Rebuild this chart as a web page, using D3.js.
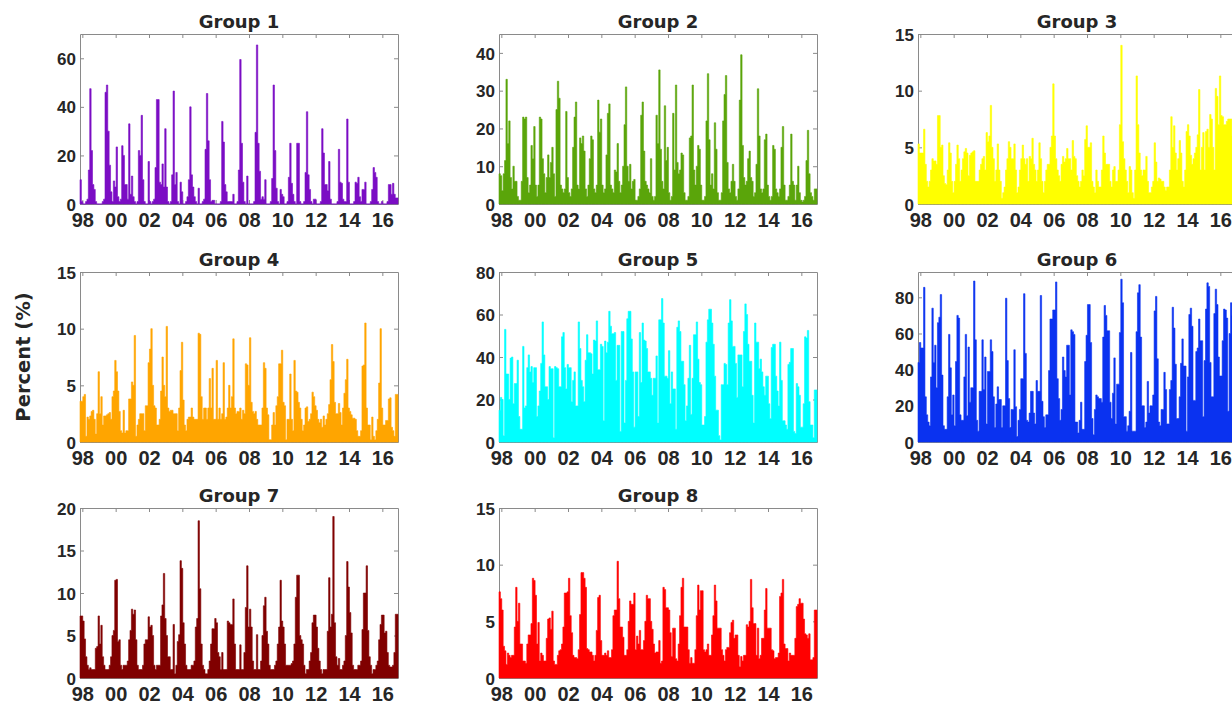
<!DOCTYPE html>
<html>
<head>
  <meta charset="UTF-8">
  <script src="https://d3js.org/d3.v7.min.js"></script>
  <title>Percent by group</title>
  <style type="text/css">
    html, body { margin:0; padding:0; background:#fff; }
  </style>
</head>
<body>
<script>
  // monthly values, one row per year
  var group1 = [
    [10,1,0,0,1,2,14,47.5,22,8,6,1],
    [0,0,0,0,1,2,46,49,30,16,5,1],
    [9.5,7,23.5,3,1,2,24,20,8,8,2,33],
    [4,11.5,3,1,0,1,22,20,36.5,10,1,0],
    [0,17.5,1,0,1,2,15,43,43,9,8,16.5],
    [7,31,7,1,0,1,12,46.5,8,13,1,0],
    [9,5,0,0,1,3,10,40,12,7,3,1],
    [0,6.5,0,0,1,2,22.5,45.5,26,10,1,1.5],
    [1.5,0,0,0,0,1,34,25.5,8,5,1,1],
    [1,1,4,0,0,1,14,59.5,25,9,1,0],
    [11.5,0,0,0,0,1,29.5,65.5,25,13.5,2,3],
    [2,10,0,0,0,1,10.5,49,22,6.5,1,0],
    [6,4,3,0,0,1,11,25,8.5,4,1,0],
    [25,25,1,0,0,1,13,38,12,6,1,0],
    [2,2,0,0,0,1,31,21,8,8,5.5,17.5],
    [2,0,0,0,0,1,22.5,9,8.5,2,1,1],
    [35,9,0,0,0,1,9,8.5,11,3,1,6],
    [6,9,0,0,0,1,6,15,13,11,1,0],
    [0,1,0,0,0,1,8,8,4,8.5,4,2.5]
  ].flat();

  var group2 = [
    [8,7.5,3.5,8,11.5,33,16,22,7,4,10,6],
    [6,2,1,1,6,23,22.5,23,7,3,5,15.5],
    [12,20.5,5,2,5,23,22.5,12,8,3,7,13],
    [7,11,15,8,2,25,32.5,28,5,4,3,4],
    [24.5,7,3,2,4,15,23,27,5,4,17.5,16],
    [18,14,4,2,5,12,18,17,4,3,5,27.5],
    [19,22.5,5,3,4,13,24,26.5,5,4,3,9],
    [8.5,16,6,3,5,10,21,31,10,6,10.5,4],
    [6,6.5,1,1,2,4,23.5,27,14,6,5,4],
    [3,12,2,1,2,23.5,16,35.5,14.5,6,4,26],
    [11.5,15,3,1,2,24,9,31.5,11,8,9,13.5],
    [13,3,1,1,2,17.5,18,31.5,9,5,10,15.5],
    [14.5,5,1,1,2,22,34.5,17,5,8,4,21.5],
    [14.5,3,1,1,3,22,29,34,11,4,3,6],
    [10.5,6,2,1,4,27.5,39.5,15.5,7,5,6,12],
    [14,7,6,2,3,10.5,30.5,18,4,3,4,17],
    [18.5,5,2,1,2,15.5,14.5,4,3,2,4,15],
    [20.5,5,1,1,2,5,18.5,6,5,1,5,10],
    [3,1,0.5,1,2,11.5,19.5,8,3,2,1,4]
  ].flat();

  var group3 = [
    [5.3,4.5,4.5,4.5,6.6,3.5,2,1.5,2,3,4,3.8],
    [3.8,3.5,7.8,7.8,5,5.2,2.5,1.8,1.7,3,5.4,4.5],
    [2,1,2,3.5,5.2,4,2,3,4,4.6,4.9,4.5],
    [2.5,4.3,4.5,4.6,4.7,2,2,2,3,3.5,4,4.2],
    [3,6.3,5.5,6,8.7,5,4,2,3,5.3,3,2],
    [0.5,1,1.5,3,4,5.5,5,4,4,5.3,3,1],
    [1.5,3,4,5.2,4,3.5,4,2,4.2,4,5.8,3.5],
    [3,2,3,5.4,4,2,1,2,3,3.5,3.5,5],
    [6,10.6,6,4,3,2.5,2,3.5,4.2,3.7,4,4.9],
    [4,4,3,5.6,4.2,4,2.5,2,1.5,2,3,2.5],
    [5.7,6.9,5,5,5.4,2,1.5,1,3,2,1.5,1.5],
    [3,6,4.5,3.5,3.5,3.5,2,1.5,3,3.3,2,2],
    [3,7,14,5.5,4,3,2,1,3.3,3,1,0.5],
    [3,11.3,7,4.5,3,2.5,3,3,4.2,2,1,1],
    [1.5,2,5.4,3.7,2,2.3,2.2,2,2,1.5,1.2,1.5],
    [1.5,3,7.7,5,6.9,4.5,3,4,5.6,4.5,2,1.5],
    [3,6.4,7,6,4.3,3.5,4,4.5,5,6.1,10.1,3],
    [5,6.3,3,6.4,6.6,5,7.9,7.5,5,3,10.2,9.5],
    [7,11.3,7.8,7.7,7,7,7.3,7.5,7.5,7.5,6,6]
  ].flat();

  var group4 = [
    [3.6,3.6,4,4.2,0.5,2.2,2,2.3,2.7,2.8,2,0.7],
    [2.5,6.2,2.5,4,1.5,2.3,2.3,2.4,2.5,2.6,2,4],
    [4.5,7.2,6.2,4.5,2.7,1,0.8,2.8,0.8,1,1,3.8],
    [3.8,5.3,5,9.4,0.5,1.5,2,2.5,2.5,2.5,1,3.2],
    [3.2,7,8.2,10,5,3.2,3,1.5,1.5,2,4.5,7.5],
    [5,4,10.2,3,2.7,2.8,2.8,2.5,2.5,2.5,1,3],
    [6.3,8.8,3.7,1.5,1,2,2.2,2.2,3,2.2,2,2],
    [2,9.6,9.5,4,2,3,3,2,3,5.6,3,6.5],
    [2,2,7.2,2,3,2,2.5,7,2,2.2,3,5],
    [3,4,9.1,3,2.5,2.7,2.7,3,2,2.8,2.5,6.9],
    [6.8,5,9.2,3.5,2.7,2.5,2.7,2,1.5,1.5,1.5,3],
    [7,6.5,3,2.4,0.2,0.2,1.5,2.6,1.5,3.2,4,6.9],
    [6.9,8.1,3.5,3.2,0.2,2,2,6,2,1,7.2,4.5],
    [4.4,3.5,3,2,1,1.5,3,3.1,1.8,2,2.5,4.4],
    [4,3.2,2.8,2,1.7,2,1.3,2.3,1.5,2,2.5,3.3],
    [5.5,8.6,7.1,3.5,2.5,2.5,3.4,2.6,1.5,3,4.3,5.5],
    [7.3,3,2.7,2.4,2.1,2.1,2,1,0.5,0.5,1,6.7],
    [6.8,10.5,3,1.5,1.5,0.2,2.2,0.5,0.2,1,2,5.2],
    [10,3,1.5,1.5,1.9,1.9,3.8,3.9,1.3,1,0.5,4.2]
  ].flat();

  var group5 = [
    [15,21,20,3,53,32,32,20,39.5,40,18,27.5],
    [27.5,38.5,12,6,6,45,16,17,35,41,33,35.5],
    [28,35,35,12,17,24,37,56.5,41,26,26,20],
    [35.5,34.5,34.5,2,35.5,35,34.5,26,26,49.5,51.5,35],
    [25,36.5,35,35,19,29,33,17,17,56.5,44,29],
    [26,19,38.5,50.5,42,42,41.5,32,48,47.5,57,34],
    [34,46,45,10,47.5,42,47,61.5,54.5,51,51,51.5],
    [29,45.5,45.5,5,52,52,9,29,58,61.5,61.5,48.5],
    [33,7,33,33,12,51.5,28,56,48,47.5,44,33],
    [33,30,22,30,30,40.5,9,57.5,57.5,67.5,56,31],
    [31,30,43,18,33,25,25,6,54,57,52,38],
    [38,27,10,17,30,45.5,13,30,50.5,50.5,56.5,39],
    [28,27,8,8,12,47,57.5,62.5,62.5,56,46,31],
    [15,15,3,1,27,27,37,36.5,27,56,67,57],
    [45,45,37,21,41,41,41,26,52,65,60,46],
    [38,38,22,9,56,47,47,34.5,39,33,26,22],
    [31,31,18,11,44.5,46,46,31,24,17,47,29],
    [10,10,8,6,36.5,37.5,44,44,5,4,27.5,26],
    [22,7,7,18,49.5,49,52.5,19,8,8,2,24.5]
  ].flat();

  var group6 = [
    [44,55,52,52,85.5,25,15,11,9,36,74,44],
    [53.5,30,66,69,81.5,37,9,7,7,25,59.5,41],
    [15,26,9,44.5,70,68.5,15,12,12,36,59.5,14.5],
    [52.5,22,30,30,89,56.5,12,6,28,28,56.5,29],
    [47,10,39,39,56.5,50,25,8,21,30.5,23.5,23.5],
    [8,20,20,79.5,45,24,8,18,18,51,19.5,3],
    [12,18,35,35,82,49,12,11,16,28,28,16],
    [10,34,28,28,81,22.5,14,8,15,15,39.5,68],
    [68,73,73,88.5,35,24,12,18,47,39.5,36,53.5],
    [53.5,26,62,61,59.5,11,11,5,12,22,7,7],
    [44.5,59,76,76,55,13,4,18,26,25,24,24],
    [22,58,75.5,70,61.5,61.5,22,13,27,46.5,10,32],
    [32,60.5,90,77,14,14,6,9,17,49.5,6,6],
    [6,61,82.5,87,58,20,20,8,11,33.5,16,20],
    [20,26,72.5,80.5,46,11,9,18,18,38.5,29,10],
    [10,29,34,74.5,63,43,13,13,25,43.5,57,42],
    [42,6,36,70.5,74,64,23,23,50,52,68,56],
    [56,14,45,73.5,88,86,44,25,25,71,84.5,76],
    [47,36.5,36.5,56,73.5,73,68.5,17,60,77,70,50]
  ].flat();

  var group7 = [
    [7.3,7.3,6.7,4.6,2.5,1.5,1,1.2,1,1,1,3.5],
    [3.7,7.3,4,6.2,2.5,1.5,1,1,1,1.5,2.5,5],
    [5.6,11.5,11.6,4.3,4.5,1.5,1,1.5,1.5,1.5,2,4.5],
    [5.6,8.1,7.5,8,4.5,1.5,1,1,1,1.5,4,4.5],
    [4.5,7.2,6,6.2,5,1.5,1,1.5,1.5,1.5,7.3,8.6],
    [12.3,7,5,2.5,2.5,1,1,6.3,0.5,1.5,4.3,5.1],
    [13.8,12.9,6.5,4,1.5,1,1,1,1.5,1.5,2,6],
    [7,18.5,10.5,4,1.5,1,0.5,0.5,1,2,4,5.8],
    [5.8,7,6.5,3,2.5,1,3,1,1,1,6.7,6.5],
    [6.3,6.3,9.3,4,1,1,1,3.9,1,1,3,8.3],
    [13.2,6,8.1,6,2,1,1,5.1,1,1,2,5],
    [8.5,9.5,5.5,4,1.5,1,1,1,1.5,2,4,6],
    [11.5,6.7,6,4,1.5,1.5,1.5,1.5,1.7,2,4,9.5],
    [12.1,12.1,5,4.5,4,1.5,0.5,1,1,2,3,6.5],
    [7.4,7.4,6,3.5,2,1,0.5,1,1,1,5.5,11.8],
    [6,7.5,19,6.5,2.5,1.5,2.3,1,1,1.5,2,5],
    [13.7,10.7,7.7,5.3,1.5,1,1,1,1.5,1.5,2,5.7],
    [10,10,13.2,5.6,2.5,1.5,0.5,1,1,1.5,2,4.5],
    [6.3,7.4,7.4,5.3,5.5,3,1.5,1.3,1.3,1.5,3,7.5]
  ].flat();

  var group8 = [
    [7.6,7,6,2.8,2.4,1.2,2.2,2,1.8,2,2,4.5],
    [8,5,6.6,3,3,1.5,1.5,1.3,3,3.8,3.8,4.8],
    [8.8,8.6,7.3,3,4.9,1.5,2.2,2,1.5,1.5,3.5,5.2],
    [5.3,4.3,5.9,1.5,1.2,1.2,2,2.4,2.5,3,4.5,7.5],
    [7.5,7.6,8.8,5.5,4,2,1.8,1.8,1.7,2.5,5.6,9.3],
    [9.3,8.8,8,2.6,2.5,2.3,2.3,2,1.5,2,4.2,7.1],
    [7.3,3.3,2,2,2.2,2,2.4,1.8,1.8,2.5,5.5,6],
    [6,10.3,7,4.5,4.5,3.6,2,2,2.5,5,6.8,6.5],
    [6.5,7.5,2.5,3.7,3,4.2,2.5,2.5,3.3,5,7.3,7],
    [7,5,4.3,3,2.2,2.3,2.3,3.3,1.3,1.5,8,7.8],
    [6.2,6.2,6,4,1.9,4.4,4.4,1.7,1.5,3,5.5,8],
    [8.8,4.5,4.5,4.5,2.5,1.3,1.8,1.3,1.3,2.5,5.5,8.2],
    [6,7.7,7.7,2.5,2.3,2.5,3,2,2,3.8,5.5,8.2],
    [6.8,4.4,4.4,4.4,2.5,2,1.5,2.5,2.7,2.7,4,4.9],
    [5.1,3.5,3.8,3.8,2,1,1.9,1.5,2,2,4.7,4.5],
    [5,8.7,6.2,4.8,4.8,2,4.4,1.7,2,3.5,3.5,6],
    [7.9,4.4,4.4,4.4,2.5,2.4,1.7,1.8,1.8,2.2,7.2,7.5],
    [8.7,3,2.6,2.6,1.5,2.2,2,2,2,3.5,6.3,6.5],
    [7,6.6,6.6,5.2,3.9,3.8,3.5,3.9,1.6,1.6,1.8,6]
  ].flat();

  var groupNames = ["Group 1","Group 2","Group 3","Group 4","Group 5","Group 6","Group 7","Group 8"];
  var groupColors = ["#7b0dc4","#5aa50a","#ffff00","#ffa500","#00ffff","#0a32f0","#800000","#ff0000"];
  var yMax = [70,45,15,15,80,94,20,15];
  var yTicks = [
    [0,20,40,60],
    [0,10,20,30,40],
    [0,5,10,15],
    [0,5,10,15],
    [0,20,40,60,80],
    [0,20,40,60,80],
    [0,5,10,15,20],
    [0,5,10,15]
  ];
  var xTicks = [1998,2000,2002,2004,2006,2008,2010,2012,2014,2016];

  var allSeries = [group1,group2,group3,group4,group5,group6,group7,group8];

  var svgWidth = 1232, svgHeight = 704;
  var colLeft = [80, 499, 918],
      rowTop = [34, 272, 508],
      width = 318,
      height = 170;
  var xDomain = [1997.86, 2016.94];
  var axisGray = "#8a8a8a", textColor = "#262626";

  var svg = d3.select("body")
    .append("svg")
    .attr("width", svgWidth)
    .attr("height", svgHeight)
    .style("font-family", "'DejaVu Sans', sans-serif")
    .style("font-weight", "bold");

  allSeries.forEach(function(values, k) {
    var left = colLeft[k % 3],
        top = rowTop[Math.floor(k / 3)];

    var panel = svg.append("g")
      .attr("transform", "translate(" + left + "," + top + ")");

    var xScale = d3.scaleLinear().domain(xDomain).range([0, width]);
    var yScale = d3.scaleLinear().domain([0, yMax[k]]).range([height, 0]);

    // axes (ticks point inward, box on all four sides)
    var bottom = panel.append("g")
      .attr("transform", "translate(0," + height + ")")
      .call(d3.axisBottom(xScale).tickValues(xTicks)
        .tickFormat(function(d) { return d3.format("02d")(d % 100); })
        .tickSizeInner(-4).tickSizeOuter(0).tickPadding(9));
    bottom.selectAll("text").style("font-size", "20px");

    var leftAxis = panel.append("g")
      .call(d3.axisLeft(yScale).tickValues(yTicks[k])
        .tickSizeInner(-4).tickSizeOuter(0).tickPadding(4));
    leftAxis.selectAll("text").style("font-size", "17px").attr("dy", "0.36em");

    panel.append("g")
      .call(d3.axisTop(xScale).tickValues(xTicks).tickFormat("")
        .tickSizeInner(-4).tickSizeOuter(0));

    panel.append("g")
      .attr("transform", "translate(" + width + ",0)")
      .call(d3.axisRight(yScale).tickValues(yTicks[k]).tickFormat("")
        .tickSizeInner(-4).tickSizeOuter(0));

    panel.selectAll(".domain, .tick line").attr("stroke", axisGray);
    panel.selectAll(".tick text").attr("fill", textColor);

    // monthly bars as one stepped area
    var pts = values.map(function(v, i) { return { t: xDomain[0] + i / 12, v: v }; });
    pts.push({ t: xDomain[1], v: values[values.length - 1] });

    var area = d3.area()
      .curve(d3.curveStepAfter)
      .x(function(d) { return xScale(d.t); })
      .y0(height)
      .y1(function(d) { return yScale(d.v); });

    panel.append("path")
      .datum(pts)
      .attr("d", area)
      .attr("fill", groupColors[k])
      .attr("stroke", groupColors[k])
      .attr("stroke-width", 0.6);

    panel.append("text")
      .attr("x", width / 2)
      .attr("y", -6)
      .attr("text-anchor", "middle")
      .attr("fill", textColor)
      .style("font-size", "18px")
      .text(groupNames[k]);
  });

  svg.append("text")
    .attr("transform", "translate(30,357) rotate(-90)")
    .attr("text-anchor", "middle")
    .attr("fill", textColor)
    .style("font-size", "19.5px")
    .text("Percent (%)");
</script>
</body>
</html>
